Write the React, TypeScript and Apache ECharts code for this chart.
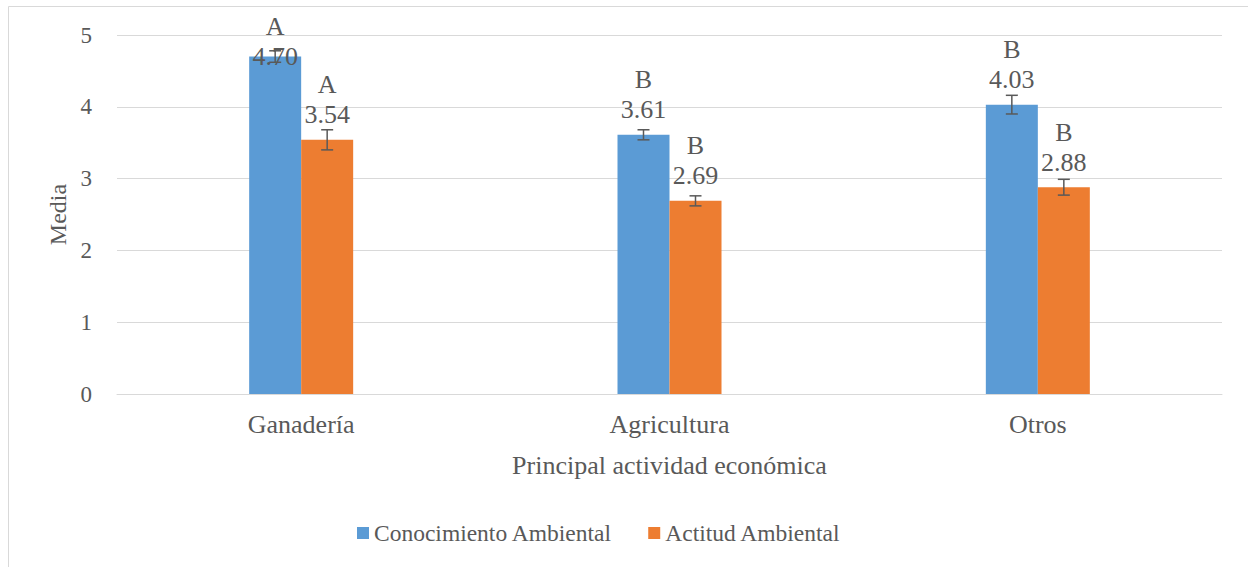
import React, { useEffect, useRef } from "react";
import * as echarts from "echarts";

const categories = ["Ganadería", "Agricultura", "Otros"];
const conocimiento = [4.70, 3.61, 4.03];
const conocimientoErr = [0.08, 0.07, 0.13];
const conocimientoLetters = ["A", "B", "B"];
const actitud = [3.54, 2.69, 2.88];
const actitudErr = [0.14, 0.07, 0.11];
const actitudLetters = ["A", "B", "B"];
const yTicks = [0, 1, 2, 3, 4, 5];

const FONT = "Times New Roman, Liberation Serif, Tinos, DejaVu Serif, serif";
const TXT = "#595959";
const BAR_W = 52;

export default function App() {
  const ref = useRef<HTMLDivElement>(null);
  useEffect(() => {
    if (!ref.current) return;
    const chart = echarts.init(ref.current, undefined, { renderer: "svg" });

    const mkBarData = (vals: number[], letters: string[], firstOffset: boolean) =>
      vals.map((v, i) => {
        const item: any = { value: v, letter: letters[i] };
        if (firstOffset && i === 0) item.label = { offset: [0, 25] };
        return item;
      });

    const labelCfg = {
      show: true,
      position: "top",
      distance: 10,
      fontFamily: FONT,
      color: TXT,
      formatter: (p: any) => `{l|${p.data.letter}}\n{v|${p.data.value.toFixed(2)}}`,
      rich: {
        l: { fontFamily: FONT, fontSize: 26, color: TXT, lineHeight: 30 },
        v: { fontFamily: FONT, fontSize: 26, color: TXT, lineHeight: 30 },
      },
    };

    const errData: any[] = [];
    conocimiento.forEach((v, i) => errData.push([i, v, conocimientoErr[i], -1]));
    actitud.forEach((v, i) => errData.push([i, v, actitudErr[i], 1]));

    chart.setOption({
      animation: false,
      textStyle: { fontFamily: FONT },
      graphic: [
        {
          type: "rect",
          shape: { x: 8.5, y: 6.5, width: 1260, height: 600 },
          style: { fill: "none", stroke: "#d9d9d9", lineWidth: 1 },
          silent: true,
          z: -10,
        },
      ],
      grid: { left: 117, right: 26, top: 35, bottom: 173 },
      legend: {
        bottom: 22,
        left: 357,
        padding: 0,
        itemWidth: 12,
        itemHeight: 12,
        itemGap: 36,
        icon: "rect",
        textStyle: { fontFamily: FONT, fontSize: 23.5, color: TXT },
        data: ["Conocimiento Ambiental", "Actitud Ambiental"],
      },
      xAxis: {
        type: "category",
        data: categories,
        name: "Principal actividad económica",
        nameLocation: "middle",
        nameGap: 58,
        nameTextStyle: { fontFamily: FONT, fontSize: 26, color: TXT },
        axisLine: { lineStyle: { color: "#d9d9d9", width: 1 } },
        axisTick: { show: false },
        axisLabel: { fontFamily: FONT, fontSize: 26, color: TXT, margin: 17 },
      },
      yAxis: {
        type: "value",
        min: 0,
        max: 5,
        interval: 1,
        name: "Media",
        nameLocation: "middle",
        nameGap: 47,
        nameTextStyle: { fontFamily: FONT, fontSize: 24, color: TXT },
        axisLine: { show: false },
        axisTick: { show: false },
        splitLine: { lineStyle: { color: "#d9d9d9", width: 1 } },
        axisLabel: {
          fontFamily: FONT,
          fontSize: 23,
          color: TXT,
          margin: 25,
          formatter: (v: number) => (yTicks.includes(v) ? String(v) : ""),
        },
      },
      series: [
        {
          name: "Conocimiento Ambiental",
          type: "bar",
          barWidth: BAR_W,
          barGap: "0%",
          itemStyle: { color: "#5B9BD5" },
          data: mkBarData(conocimiento, conocimientoLetters, true),
          label: labelCfg,
          z: 2,
        },
        {
          name: "Actitud Ambiental",
          type: "bar",
          barWidth: BAR_W,
          barGap: "0%",
          itemStyle: { color: "#ED7D31" },
          data: mkBarData(actitud, actitudLetters, false),
          label: labelCfg,
          z: 2,
        },
        {
          name: "err",
          type: "custom",
          z: 5,
          silent: true,
          data: errData,
          encode: { x: 0, y: 1 },
          renderItem: (params: any, api: any) => {
            const cat = api.value(0);
            const v = api.value(1);
            const e = api.value(2);
            const side = api.value(3);
            const top = api.coord([cat, v + e]);
            const bot = api.coord([cat, v - e]);
            const x = top[0] + side * (BAR_W / 2);
            const cap = 6;
            const st = { stroke: "#595959", lineWidth: 1.5 };
            return {
              type: "group",
              children: [
                { type: "line", shape: { x1: x, y1: top[1], x2: x, y2: bot[1] }, style: st },
                { type: "line", shape: { x1: x - cap, y1: top[1], x2: x + cap, y2: top[1] }, style: st },
                { type: "line", shape: { x1: x - cap, y1: bot[1], x2: x + cap, y2: bot[1] }, style: st },
              ],
            };
          },
        },
      ],
    });
    return () => chart.dispose();
  }, []);
  return (
    <div
      ref={ref}
      style={{ position: "fixed", left: 0, top: 0, width: 1248, height: 567, background: "#fff" }}
    />
  );
}
